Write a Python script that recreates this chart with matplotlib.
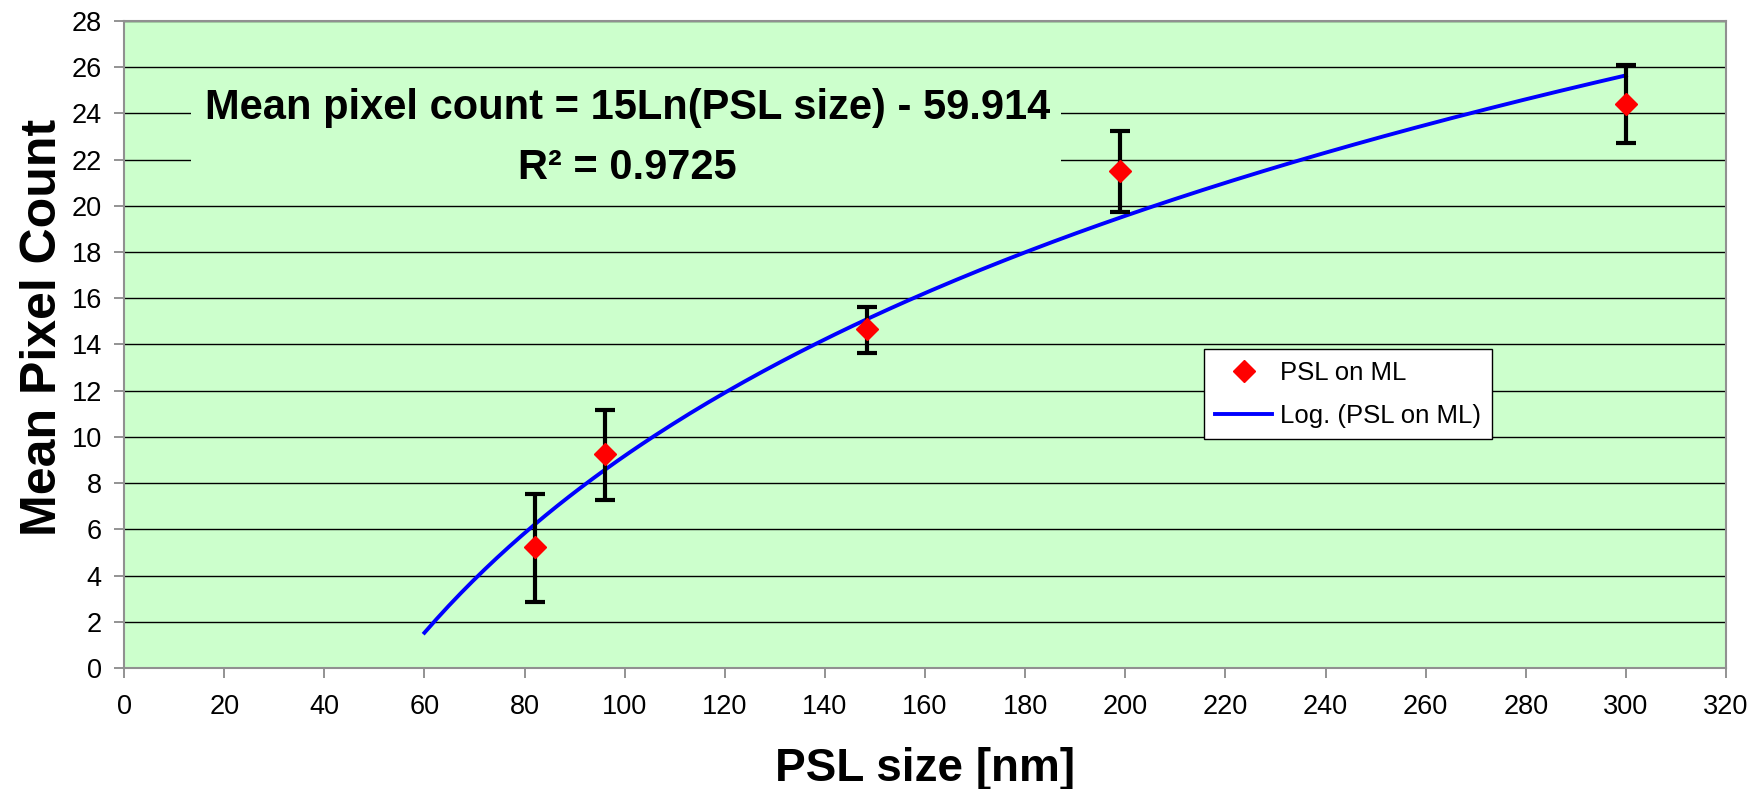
import numpy as np
import matplotlib
matplotlib.use("Agg")
import matplotlib.pyplot as plt
from matplotlib.patches import Rectangle

# données
psl_size = [82, 96, 148.5, 199, 300]
pixel_count = [5.22, 9.25, 14.65, 21.5, 24.4]
err_low = [2.86, 7.28, 13.62, 19.72, 22.7]
err_high = [7.55, 11.15, 15.62, 23.26, 26.08]

equation = "Mean pixel count = 15Ln(PSL size) - 59.914"
r2_text = "R² = 0.9725"

plt.rcParams['font.family'] = ['Liberation Sans', 'DejaVu Sans']

x = np.array(psl_size)
y = np.array(pixel_count)
yerr = [y - np.array(err_low), np.array(err_high) - y]

# courbe de tendance logarithmique (ajustement sur ln(x), comme Excel)
a, b = np.polyfit(np.log(x), y, 1)
xt = np.linspace(60, 300, 200)
yt = a * np.log(xt) + b

fig = plt.figure(figsize=(17.6, 7.89), dpi=100)
ax = fig.add_axes([0.0705, 0.1534, 0.9102, 0.82])
ax.set_facecolor('#CCFFCC')

ax.plot(xt, yt, color='#0000FF', lw=2.8, label='Log. (PSL on ML)', zorder=3)
ax.errorbar(x, y, yerr=yerr, fmt='none', ecolor='black', elinewidth=3,
            capsize=7, capthick=3, zorder=4)
ax.plot(x, y, 'D', color='#FF0000', ms=11.5, mec='#FF0000', ls='none',
        label='PSL on ML', zorder=5)

ax.set_xlim(0, 320)
ax.set_ylim(0, 28)
ax.set_xticks(np.arange(0, 321, 20))
ax.set_yticks(np.arange(0, 29, 2))
ax.yaxis.grid(True, color='black', lw=1)
ax.set_axisbelow(True)
ax.tick_params(labelsize=19.5, direction='out', length=7, width=1.2,
               color='#808080')
ax.tick_params(axis='x', pad=12)
ax.tick_params(axis='y', pad=9)
for s in ax.spines.values():
    s.set_color('#909090')
    s.set_linewidth(1.5)

ax.set_xlabel('PSL size [nm]', fontsize=33, fontweight='bold', va='top')
ax.xaxis.set_label_coords(0.5, -0.122)
ax.set_ylabel('Mean Pixel Count', fontsize=36, fontweight='bold')
ax.yaxis.set_label_coords(-0.036, 0.527)

# cadre de l'équation (masque le quadrillage)
ax.add_patch(Rectangle((13.4, 20.55), 173.7, 4.95, facecolor='#CCFFCC',
                       edgecolor='none', zorder=1))
ax.text(100.6, 23.76, equation, fontsize=30, fontweight='bold',
        ha='center', va='baseline', zorder=6)
ax.text(100.6, 21.16, r2_text, fontsize=30, fontweight='bold',
        ha='center', va='baseline', zorder=6)

h, l = ax.get_legend_handles_labels()
leg = ax.legend(h[::-1], l[::-1], loc='upper left', bbox_to_anchor=(0.674, 0.493),
                borderaxespad=0, fontsize=18.5, frameon=True, fancybox=False,
                edgecolor='black', framealpha=1, borderpad=0.45,
                handlelength=2.2, handletextpad=0.3, labelspacing=0.75)
leg.get_frame().set_linewidth(1)

fig.savefig('out.png', dpi=100)
